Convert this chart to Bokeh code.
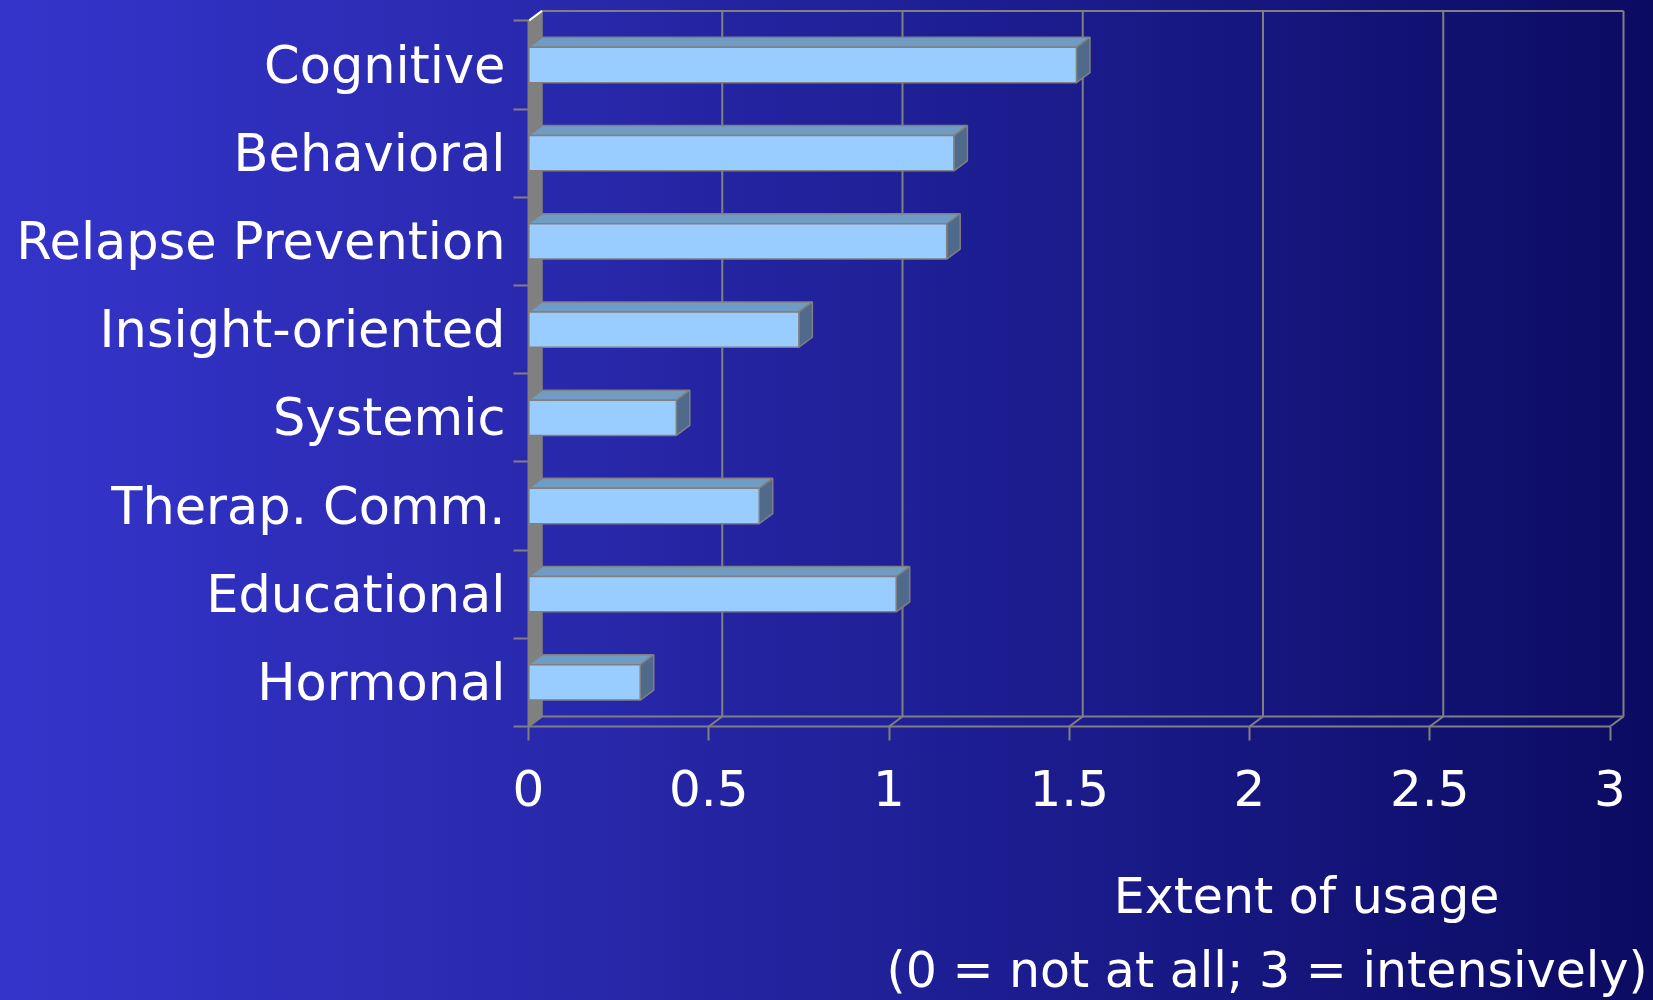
import numpy as np
from bokeh.plotting import figure
from bokeh.models import FixedTicker, ColumnDataSource, Range1d, Title, LinearAxis
from bokeh.embed import file_html
from bokeh.resources import INLINE

# ---- data ----
categories = ["Hormonal", "Educational", "Therap. Comm.", "Systemic",
              "Insight-oriented", "Relapse Prevention", "Behavioral", "Cognitive"]
usage = [0.31, 1.02, 0.64, 0.41, 0.75, 1.16, 1.18, 1.52]
x_ticks = [0, 0.5, 1, 1.5, 2, 2.5, 3]
x_tick_labels = ["0", "0.5", "1", "1.5", "2", "2.5", "3"]
axis_title = ["Extent of usage", "(0 = not at all; 3 = intensively)"]

# ---- layout ----
W, H = 1653, 1000
BL, BR, BT, BB = 528, 6, 0, 274
frame_w = W - BL - BR
frame_h = H - BT - BB
PX_UNIT = 360.5          # pixels per x unit
PX_BAND = 88.2           # pixels per category band
XMAX = frame_w / PX_UNIT
YMAX = frame_h / PX_BAND
DX = 13.5 / PX_UNIT
DY = 10.0 / PX_BAND
N = len(categories)
XEND = x_ticks[-1]
HALF = 0.2

GRAY = "#808080"
FONT = "DejaVu Sans"
FS = "49px"
FS_TICK = "50px"
FS_CAT = "51px"

p = figure(width=W, height=H, x_range=Range1d(0, XMAX), y_range=Range1d(0, YMAX),
           min_border_left=BL, min_border_right=BR, min_border_top=BT, min_border_bottom=BB,
           output_backend="svg", toolbar_location=None)
p.background_fill_color = None
p.border_fill_color = None
p.outline_line_color = None
p.styles = {"background": "linear-gradient(90deg, #3434CB 0%, #2A2AB0 30%, #1B1B8C 65%, #0B0B62 100%)"}
p.xgrid.visible = False
p.ygrid.visible = False

# x axis
p.xaxis.ticker = FixedTicker(ticks=x_ticks)
p.xaxis.major_label_overrides = {float(t): l for t, l in zip(x_ticks, x_tick_labels)}
p.xaxis.bounds = (0, XEND)
p.xaxis.axis_line_color = GRAY
p.xaxis.axis_line_width = 2
p.xaxis.major_tick_line_color = GRAY
p.xaxis.major_tick_line_width = 2
p.xaxis.major_tick_out = 14
p.xaxis.major_tick_in = 0
p.xaxis.minor_tick_line_color = None
p.xaxis.major_label_text_font = FONT
p.xaxis.major_label_text_font_size = FS_TICK
p.xaxis.major_label_text_color = "white"
p.xaxis.major_label_standoff = 29

# y axis (categories as labels at band centres, tick marks at band edges)
centres = [i + 0.5 for i in range(N)]
p.yaxis.ticker = FixedTicker(ticks=centres, minor_ticks=list(range(N + 1)))
p.yaxis.major_label_overrides = {float(c): name for c, name in zip(centres, categories)}
p.yaxis.bounds = (0, N)
p.yaxis.axis_line_color = GRAY
p.yaxis.axis_line_width = 2
p.yaxis.major_tick_line_color = None
p.yaxis.major_tick_out = 15
p.yaxis.major_tick_in = 0
p.yaxis.minor_tick_line_color = GRAY
p.yaxis.minor_tick_line_width = 2
p.yaxis.minor_tick_out = 15
p.yaxis.minor_tick_in = 0
p.yaxis.major_label_text_font = FONT
p.yaxis.major_label_text_font_size = FS_CAT
p.yaxis.major_label_text_color = "white"
p.yaxis.major_label_standoff = 8

# invisible spacer axis below the x axis (adds vertical room), then the two-line axis title
spacer_tick = 1.5
spacer = LinearAxis(ticker=FixedTicker(ticks=[spacer_tick]), axis_line_color=GRAY, axis_line_alpha=0.0,
                    major_tick_line_color=GRAY, major_tick_line_alpha=0.002,
                    minor_tick_line_color=None, major_tick_out=44, major_tick_in=0,
                    major_label_overrides={spacer_tick: ""}, major_label_text_font_size="0px",
                    major_label_standoff=0)
p.add_layout(spacer, "below")
t1 = Title(text=axis_title[0], align="right", offset=148, vertical_align="top",
           standoff=30, text_font=FONT, text_font_size=FS, text_font_style="normal",
           text_color="white")
t2 = Title(text=axis_title[1], align="right", offset=0, vertical_align="top",
           standoff=0, text_font=FONT, text_font_size=FS, text_font_style="normal",
           text_color="white")
p.add_layout(t1, "below")
p.add_layout(t2, "below")

# back wall outline + gridlines
gx = [t + DX for t in x_ticks[1:]]
p.multi_line(xs=[[g, g] for g in gx], ys=[[DY, N + DY] for _ in gx], line_color=GRAY, line_width=2)
p.line(x=[DX, XEND + DX], y=[N + DY, N + DY], line_color=GRAY, line_width=2)
# floor: back edge and depth diagonals
p.line(x=[DX, XEND + DX], y=[DY, DY], line_color=GRAY, line_width=2)
p.multi_line(xs=[[t, t + DX] for t in x_ticks], ys=[[0, DY] for _ in x_ticks], line_color=GRAY, line_width=2)
# left side wall
p.patch(x=[0, 0, DX, DX], y=[0, N, N + DY, DY], fill_color=GRAY, line_color=GRAY, line_width=1.5)
p.line(x=[0, DX], y=[N, N + DY], line_color="white", line_width=2)

# bars (3D boxes)
front = ColumnDataSource(dict(left=[0] * N, right=usage,
                              bottom=[c - HALF for c in centres], top=[c + HALF for c in centres]))
top_xs = [[0, v, v + DX, DX] for v in usage]
top_ys = [[c + HALF, c + HALF, c + HALF + DY, c + HALF + DY] for c in centres]
side_xs = [[v, v, v + DX, v + DX] for v in usage]
side_ys = [[c - HALF, c + HALF, c + HALF + DY, c - HALF + DY] for c in centres]
p.patches(xs=top_xs, ys=top_ys, fill_color="#709BC2", line_color=GRAY, line_width=1.5)
p.patches(xs=side_xs, ys=side_ys, fill_color="#4F6A8A", line_color=GRAY, line_width=1.5)
p.quad(left="left", right="right", bottom="bottom", top="top", source=front,
       fill_color="#99CCFF", line_color=GRAY, line_width=1.5)

open("out.html", "w").write(file_html(p, INLINE))
